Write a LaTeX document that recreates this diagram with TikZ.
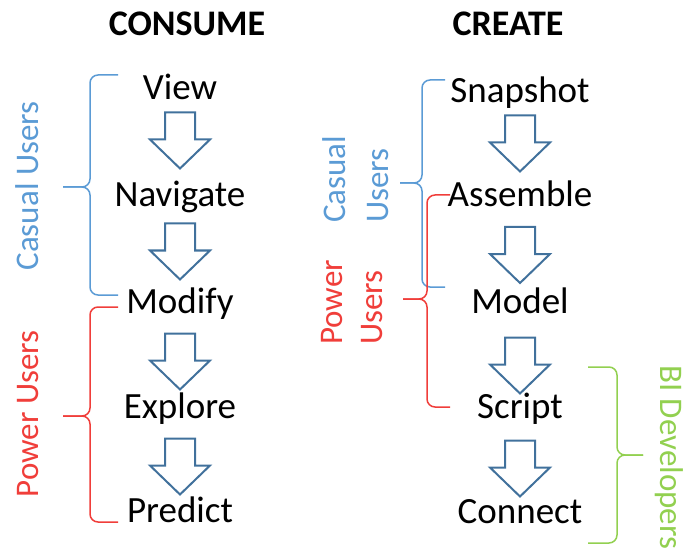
\documentclass[tikz,border=0pt]{standalone}
\usepackage{fontspec}
\setmainfont{Carlito}
\usepackage{xcolor}
\usetikzlibrary{calc}

\definecolor{casualblue}{RGB}{91,155,213}
\definecolor{powerred}{RGB}{240,62,58}
\definecolor{devgreen}{RGB}{146,208,80}
\definecolor{arrowblue}{RGB}{65,113,156}

\tikzset{
    stage/.style={font=\fontsize{37}{42}\selectfont, anchor=base, inner sep=0pt},
    heading/.style={font=\fontsize{36}{41}\selectfont\bfseries, anchor=base, inner sep=0pt},
    grouplabel/.style={font=\fontsize{33}{38}\selectfont, inner sep=0pt},
    bracket/.style={line width=1.5pt, rounded corners=8pt},
    downarrow/.pic={
        \draw[arrowblue, line width=2pt, line join=miter]
            (-15,-28) -- (15,-28) -- (15,-1) -- (30,-1) -- (0,28) -- (-30,-1) -- (-15,-1) -- cycle;
    }
}

\begin{document}
\begin{tikzpicture}[x=1pt,y=-1pt]
        \useasboundingbox (0,0) rectangle (690,553);

        %TITLES
        \node[heading] (consume) at (187,36) {CONSUME};
        \node[heading] (create) at (508,36) {CREATE};

        %CONSUME
        \node[stage] (view) at (180,100) {View};
        \node[stage] (navigate) at (180,207) {Navigate};
        \node[stage] (modify) at (180,313) {Modify};
        \node[stage] (explore) at (180,418) {Explore};
        \node[stage] (predict) at (180,522) {Predict};
        \path (180,140.5) pic {downarrow};
        \path (180,251.5) pic {downarrow};
        \path (180,361.5) pic {downarrow};
        \path (180,466.5) pic {downarrow};

        %CREATE
        \node[stage] (snapshot) at (520,103) {Snapshot};
        \node[stage] (assemble) at (520,207) {Assemble};
        \node[stage] (model) at (520,313) {Model};
        \node[stage] (script) at (520,418) {Script};
        \node[stage] (connect) at (520,523) {Connect};
        \path (520,143.5) pic {downarrow};
        \path (520,255) pic {downarrow};
        \path (520,365.5) pic {downarrow};
        \path (520,468.5) pic {downarrow};

        %BRACES LEFT
        \draw[bracket, casualblue] (118,75) -| (90,187) -- (63,187);
        \draw[bracket, casualblue] (118,295) -| (90,187) -- (63,187);
        \draw[bracket, powerred] (118,307) -| (90,416) -- (63,416);
        \draw[bracket, powerred] (118,522) -| (90,416) -- (63,416);
        \node[grouplabel, casualblue, rotate=90, anchor=base] (casualL) at (38,186) {Casual Users};
        \node[grouplabel, powerred, rotate=90, anchor=base] (powerL) at (38,414) {Power Users};

        %BRACES RIGHT
        \draw[bracket, casualblue] (445,80) -| (422,183) -- (400,183);
        \draw[bracket, casualblue] (445,287) -| (422,183) -- (400,183);
        \draw[bracket, powerred] (450,195) -| (427,299) -- (403,299);
        \draw[bracket, powerred] (450,407) -| (427,299) -- (403,299);
        \draw[bracket, devgreen] (588,367) -| (617,455) -- (643,455);
        \draw[bracket, devgreen] (588,543) -| (617,455) -- (643,455);
        \node[grouplabel, casualblue, rotate=90, anchor=base west] (casualR) at (345,223) {Casual};
        \node[grouplabel, casualblue, rotate=90, anchor=base west] (usersR) at (388,223) {Users};
        \node[grouplabel, powerred, rotate=90, anchor=base west] (powerR) at (342,345) {Power};
        \node[grouplabel, powerred, rotate=90, anchor=base west] (usersP) at (382,345) {Users};
        \node[grouplabel, devgreen, rotate=-90, anchor=base west] (devs) at (660,365) {BI Developers};
    \end{tikzpicture}
\end{document}
